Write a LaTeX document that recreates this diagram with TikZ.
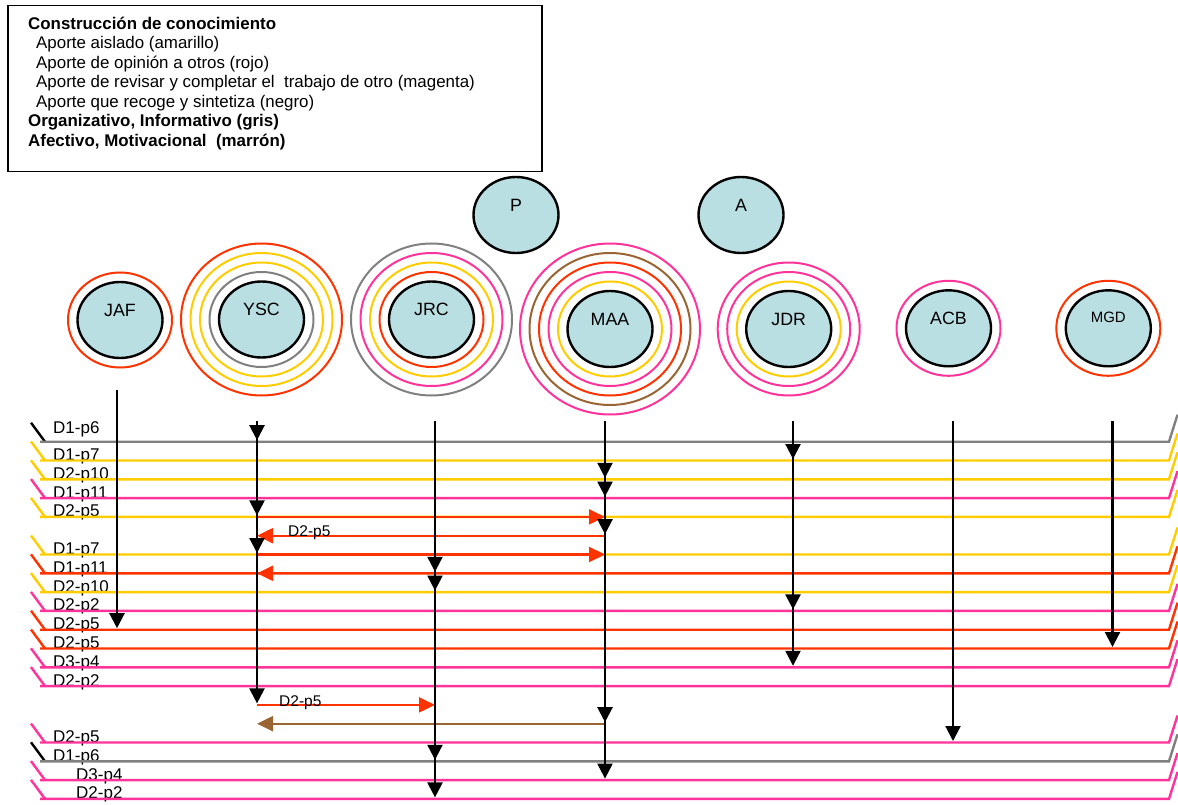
\documentclass[tikz,border=0pt]{standalone}
\usepackage{fontspec}
\setmainfont{Liberation Sans}
\usetikzlibrary{arrows.meta,calc,shapes.geometric}

\definecolor{amarillo}{HTML}{FFCC00}
\definecolor{rojo}{HTML}{FF3300}
\definecolor{rosa}{HTML}{FF3399}
\definecolor{gris}{HTML}{808080}
\definecolor{marron}{HTML}{996633}
\definecolor{celeste}{HTML}{BADFE3}

\tikzset{
  person/.style={ellipse, draw=black, line width=2.4pt, fill=celeste,
    minimum width=85pt, minimum height=76pt, inner sep=0pt},
  who/.style={font=\fontsize{17.8}{20}\selectfont, inner sep=0pt},
  ring/.style={line width=2pt},
  rowline/.style={line width=2.4pt},
  rowlab/.style={font=\fontsize{17}{19}\selectfont, anchor=base west, inner sep=0pt},
  leg/.style={font=\fontsize{16.9}{19.5}\selectfont, anchor=base west, inner sep=0pt},
  legb/.style={leg, font=\fontsize{16.9}{19.5}\selectfont\bfseries},
  timeline/.style={line width=2.2pt, draw=black},
  blackhead/.style={timeline, -{Triangle[width=15pt,length=15pt]}},
  contrib/.style={line width=2.2pt, -{Triangle[width=15pt,length=16pt]}},
  arrlab/.style={font=\fontsize{15.5}{18}\selectfont, anchor=base west, inner sep=0pt},
}

\begin{document}
\begin{tikzpicture}[x=1pt,y=-1pt]
\useasboundingbox (0,0) rectangle (1178,805);

% ---- legend box ----
\node[draw=black, line width=1.5pt, minimum width=534pt, minimum height=166pt,
      inner sep=0pt, anchor=north west] (leyenda) at (7,5) {};
\node[legb] (l1) at (28,29.5) {Construcción de conocimiento};
\node[leg]  (l2) at (36,49)   {Aporte aislado (amarillo)};
\node[leg]  (l3) at (36,68.5) {Aporte de opinión a otros (rojo)};
\node[leg]  (l4) at (36,88)   {Aporte de revisar y completar el\ \ trabajo de otro (magenta)};
\node[leg]  (l5) at (36,107.5){Aporte que recoge y sintetiza (negro)};
\node[legb] (l6) at (28,127)  {Organizativo, Informativo (gris)};
\node[legb] (l7) at (28,146.5){Afectivo, Motivacional\ \ (marrón)};

% ---- participants ----
\node[person] (P)   at (516,215) {};
\node[person] (A)   at (741,215) {};
\node[person] (JAF) at (120,320) {};
\node[person] (YSC) at (261.5,319.5) {};
\node[person] (JRC) at (431.5,319.5) {};
\node[person] (MAA) at (610,329) {};
\node[person] (JDR) at (788.7,329) {};
\node[person] (ACB) at (948.5,328.3) {};
\node[person] (MGD) at (1108.3,328.3) {};

% contribution rings, from the inside out
\foreach \n/\cs in {JAF/{rojo}, YSC/{gris,amarillo,amarillo,rojo},
                    JRC/{rojo,amarillo,rosa,gris},
                    MAA/{amarillo,rosa,rojo,marron,rosa},
                    JDR/{amarillo,rosa,rosa}, ACB/{rosa}, MGD/{rojo}}
  \foreach \c [count=\i] in \cs
    \draw[ring, draw=\c] (\n.center) ellipse [x radius=42.5pt+9.5pt*\i, y radius=38pt+9.5pt*\i];

\foreach \n in {P,A,JAF,YSC,JRC,MAA,JDR,ACB}
  \node[who] (\n-txt) at ([yshift=10pt]\n.center) {\n};
\node[who, font=\fontsize{15}{18}\selectfont] (MGD-txt) at ([yshift=11pt]MGD.center) {MGD};

% ---- message rows ----
\foreach \k in {0,...,19}
  \coordinate (r\k) at (0,{441.7+18.8*\k});

\foreach \k/\c/\t/\lab/\lx/\ly in {
    0/gris/black/D1-p6/53/-8,
    1/amarillo/amarillo/D1-p7/53/0,
    2/amarillo/amarillo/D2-p10/53/0,
    3/rosa/rosa/D1-p11/53/0,
    4/amarillo/amarillo/D2-p5/53/0,
    6/amarillo/amarillo/D1-p7/53/0,
    7/rojo/rojo/D1-p11/53/0,
    8/amarillo/amarillo/D2-p10/53/0,
    9/rosa/rosa/D2-p2/53/0,
    10/rojo/rojo/D2-p5/53/0,
    11/rojo/rojo/D2-p5/53/0,
    12/rosa/rosa/D3-p4/53/0,
    13/rosa/rosa/D2-p2/53/0,
    16/rosa/rosa/D2-p5/53/0,
    17/gris/black/D1-p6/53/0,
    18/rosa/rosa/D3-p4/76/0,
    19/rosa/rosa/D2-p2/76/0}
{
  \node[rowlab] (lab\k) at ($(r\k)+(\lx,\ly)$) {\lab};
  \draw[rowline, draw=\t] ($(r\k)+(31,-19)$) -- ($(r\k)+(45,0)$);
  \draw[rowline, draw=\c] ($(r\k)+(40,0)$) -- ($(r\k)+(1169,0)$) -- ($(r\k)+(1177.5,-27)$);
}

% ---- timelines ----
\coordinate (tJAF) at (117,390);
\coordinate (tYSC) at (257,421);
\coordinate (tJRC) at (435,421);
\coordinate (tMAA) at (605,421);
\coordinate (tJDR) at (793,421);
\coordinate (tACB) at (953,421);
\coordinate (tMGD) at (1112.5,421);

% directed replies between participants
\draw[contrib, draw=rojo]   (tYSC |- r4)  -- (tMAA |- r4);
\draw[contrib, draw=rojo]   (tMAA |- r5)  -- (tYSC |- r5);
\draw[contrib, draw=rojo]   (tYSC |- r6)  -- (tMAA |- r6);
\draw[contrib, draw=rojo]   (tMAA |- r7)  -- (tYSC |- r7);
\draw[contrib, draw=rojo]   (tYSC |- r14) -- (tJRC |- r14);
\draw[contrib, draw=marron] (tMAA |- r15) -- (tYSC |- r15);
\node[arrlab] (n5)  at ($(r5)+(288,1)$)    {D2-p5};
\node[arrlab] (n14) at ($(r14)+(279,1.5)$) {D2-p5};

\foreach \n/\last in {JAF/10, YSC/14, JRC/19, MAA/18, JDR/12, ACB/16, MGD/11}
  \draw[blackhead] (t\n) -- ($(t\n |- r\last)+(0,-1.5)$);

\foreach \n/\rs in {YSC/{0,4,6}, JRC/{7,8,17}, MAA/{2,3,5,15}, JDR/{1,9}}
  \foreach \r in \rs
    \draw[blackhead] ($(t\n |- r\r)+(0,-17)$) -- ($(t\n |- r\r)+(0,-1.5)$);

\end{tikzpicture}
\end{document}
